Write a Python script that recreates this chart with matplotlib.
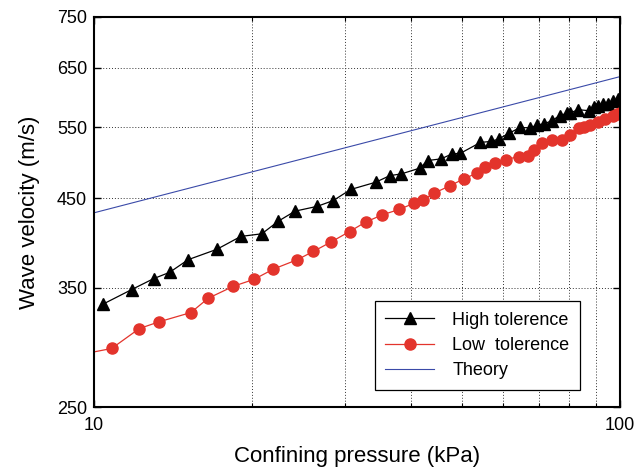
import matplotlib
matplotlib.use('Agg')
import matplotlib.pyplot as plt
from matplotlib.ticker import NullLocator, FixedLocator, NullFormatter
import numpy as np

plt.rc('font', family=['Liberation Sans', 'DejaVu Sans'], size=13)

# High tolerence (triangles)
p_high = [10.39, 11.79, 12.98, 13.92, 15.10, 17.12, 19.01, 20.84, 22.41, 24.10,
          26.58, 28.50, 30.74, 34.29, 36.50, 38.37, 41.56, 43.09, 45.68, 47.92,
          49.70, 54.26, 56.84, 58.76, 61.38, 64.60, 67.49, 69.50, 71.53, 74.20,
          76.70, 79.23, 80.38, 83.14, 87.08, 89.0, 90.95, 92.96, 95.0, 97.12, 99.26]
v_high = [333.9, 348.0, 358.9, 365.3, 378.6, 389.8, 404.2, 407.2, 422.0, 434.0,
          440.0, 447.2, 461.3, 470.8, 479.7, 482.0, 489.8, 500.5, 502.9, 510.0,
          510.8, 526.7, 528.2, 531.8, 540.2, 549.5, 548.6, 553.2, 554.7, 560.0,
          568.0, 571.7, 572.3, 577.6, 576.0, 581.3, 584.0, 586.8, 586.8, 592.3, 595.2]

# Low tolerence (circles)
p_low = [9.6, 10.80, 12.19, 13.27, 15.28, 16.48, 18.41, 20.15, 21.93, 24.35, 26.12,
         28.17, 30.60, 32.81, 35.30, 38.05, 40.53, 42.23, 44.23, 47.58, 50.43,
         53.33, 55.29, 57.74, 60.77, 64.12, 66.71, 68.48, 71.02, 74.20, 77.51,
         80.38, 83.37, 85.21, 87.75, 90.95, 93.66, 97.12, 98.56, 99.9]
v_low = [290.5, 294.8, 311.8, 317.7, 326.2, 339.6, 351.3, 358.2, 368.7, 378.6, 387.5,
         397.7, 409.8, 420.8, 429.5, 436.2, 443.7, 448.0, 456.4, 466.5, 475.3,
         482.9, 491.2, 497.3, 501.9, 506.2, 507.6, 515.8, 526.0, 530.5, 530.8,
         538.0, 548.6, 549.5, 553.7, 557.3, 562.7, 568.0, 570.8, 573.0]

# Theory
p_theory = [10, 100]
v_theory = [432, 634]

yticks = [250, 350, 450, 550, 650, 750]
xminor = [20, 30, 40, 50, 60, 70, 80, 90]

fig = plt.figure(figsize=(6.44, 4.70), dpi=100)
ax = fig.add_axes([0.146, 0.134, 0.817, 0.830])

ax.plot(p_high, v_high, color='k', linewidth=0.9, marker='^', markersize=8,
        markerfacecolor='k', markeredgecolor='k', label='High tolerence')
ax.plot(p_low, v_low, color='#e3342c', linewidth=0.9, marker='o', markersize=8,
        markerfacecolor='#e3342c', markeredgecolor='#e3342c', label='Low  tolerence')
ax.plot(p_theory, v_theory, color='#3a4aa8', linewidth=0.8, label='Theory')

ax.set_xscale('log')
ax.set_yscale('log')
ax.set_xlim(10, 100)
ax.set_ylim(250, 750)

ax.xaxis.set_major_locator(FixedLocator([10, 100]))
ax.set_xticklabels(['10', '100'])
ax.xaxis.set_minor_locator(FixedLocator(xminor))
ax.xaxis.set_minor_formatter(NullFormatter())
ax.yaxis.set_major_locator(FixedLocator(yticks))
ax.set_yticklabels([str(t) for t in yticks])
ax.yaxis.set_minor_locator(NullLocator())

ax.tick_params(which='both', direction='in', top=True, right=True, labelsize=13)
ax.tick_params(which='major', length=5, width=1)
ax.tick_params(which='minor', length=3, width=0.8)
ax.tick_params(axis='x', pad=7)
ax.tick_params(axis='y', pad=5)

ax.grid(True, which='both', linestyle=(0, (1, 2)), color='#333333', linewidth=0.7)
for s in ax.spines.values():
    s.set_linewidth(1.5)

ax.set_xlabel('Confining pressure (kPa)', fontsize=16, labelpad=9)
ax.set_ylabel('Wave velocity (m/s)', fontsize=16, labelpad=12)

leg = ax.legend(loc='lower right', bbox_to_anchor=(0.924, 0.044), borderaxespad=0,
                fontsize=13, fancybox=False, edgecolor='k', framealpha=1,
                handlelength=2.7, borderpad=0.6, labelspacing=0.45, handletextpad=1.0)
leg.get_frame().set_linewidth(0.9)

plt.savefig('out.png', dpi=100)
